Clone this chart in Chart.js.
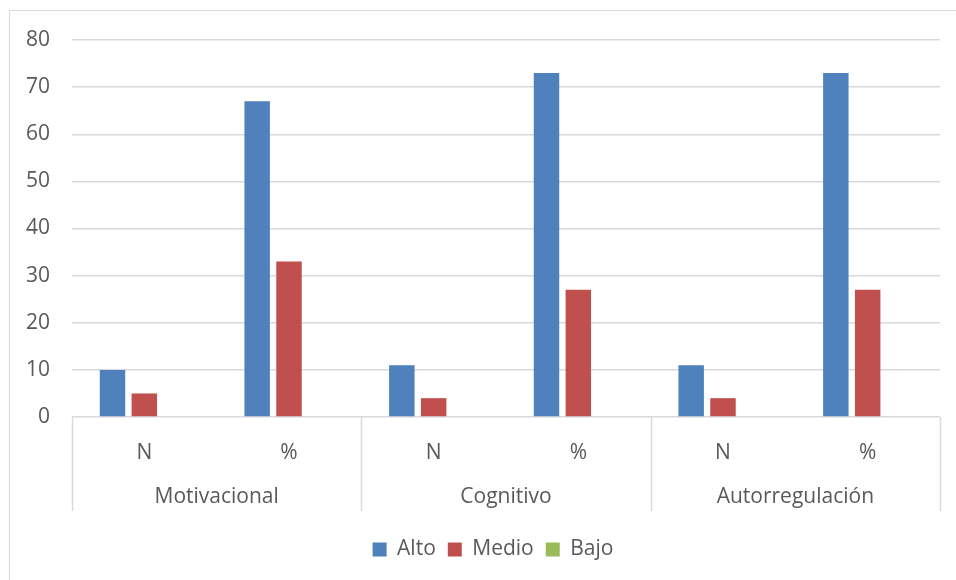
<!DOCTYPE html>
<html lang="es">
<head>
<meta charset="UTF-8">
<title>Dimensiones</title>
<script src="https://cdn.jsdelivr.net/npm/chart.js"></script>
<style>
    body{
        margin:0;
        width:956px;
        height:580px;
        overflow:hidden;
        background:#fff;
        position:relative;
    }
    #marco{
        position:absolute;
        left:9px;
        top:10px;
        width:1000px;
        height:700px;
        border:1.5px solid #d9d9d9;
    }
    #grafico{
        position:absolute;
        left:0;
        top:0;
    }
</style>
</head>
<body>
<div id="marco"></div>
<canvas id="grafico" width="956" height="580"></canvas>
<script>
    // datos
    const categorias = ["N", "%", "N", "%", "N", "%"];
    const grupos = ["Motivacional", "Cognitivo", "Autorregulación"];
    const alto = [10, 67, 11, 73, 11, 73];
    const medio = [5, 33, 4, 27, 4, 27];
    const bajo = [0, 0, 0, 0, 0, 0];
    const ticksY = [0, 10, 20, 30, 40, 50, 60, 70, 80];

    const gris = "#d9d9d9";
    const texto = "#595959";
    const fuente = "'Open Sans', sans-serif";

    // dibuja los nombres de grupo y los separadores bajo el eje x
    const gruposPlugin = {
        id: "grupos",
        afterLayout(chart){
            // la leyenda va centrada sobre el area del grafico
            const a = chart.chartArea;
            const l = chart.legend;
            const mitad = (l.right - l.left) / 2;
            const centro = (a.left + a.right) / 2 + 0;
            const dx = centro - (l.left + mitad) - 13;
            l.left += dx;
            l.right += dx;
        },
        afterDraw(chart){
            const x = chart.scales.x;
            const ctx = chart.ctx;
            const ancho = (x.right - x.left) / grupos.length;
            ctx.save();
            ctx.strokeStyle = gris;
            ctx.lineWidth = 1.5;
            for(let k = 0; k <= grupos.length; k++){
                const px = Math.round(x.left + k * ancho) + 0.5;
                ctx.beginPath();
                ctx.moveTo(px, x.top);
                ctx.lineTo(px, x.top + 94);
                ctx.stroke();
            }
            ctx.fillStyle = texto;
            ctx.font = "21px " + fuente;
            ctx.textAlign = "center";
            ctx.textBaseline = "middle";
            grupos.forEach((g, i) => {
                ctx.fillText(g, x.left + (i + 0.5) * ancho, x.top + 80);
            });
            ctx.restore();
        }
    };

    new Chart(document.getElementById("grafico"), {
        type: "bar",
        data: {
            labels: categorias,
            datasets: [
                {label: "Alto", data: alto, backgroundColor: "#4f81bd"},
                {label: "Medio", data: medio, backgroundColor: "#c0504d"},
                {label: "Bajo", data: bajo, backgroundColor: "#9bbb59"}
            ]
        },
        options: {
            responsive: false,
            animation: false,
            categoryPercentage: 0.66,
            barPercentage: 0.8,
            layout: {padding: {top: 40, right: 16, left: 0, bottom: 10}},
            plugins: {
                tooltip: {enabled: false},
                legend: {
                    position: "bottom",
                    labels: {
                        boxWidth: 14,
                        boxHeight: 14,
                        padding: 12,
                        color: texto,
                        font: {family: fuente, size: 21}
                    }
                }
            },
            scales: {
                x: {
                    grid: {display: false},
                    border: {display: false},
                    ticks: {
                        color: texto,
                        font: {family: fuente, size: 21},
                        padding: 15,
                        maxRotation: 0
                    },
                    afterFit(scale){ scale.height = 110; }
                },
                y: {
                    min: 0,
                    max: 80,
                    afterBuildTicks(scale){
                        scale.ticks = ticksY.map(v => ({value: v}));
                    },
                    grid: {color: gris, lineWidth: 1.5, drawTicks: false},
                    border: {display: false},
                    ticks: {
                        color: texto,
                        font: {family: fuente, size: 21},
                        padding: 22
                    },
                    afterFit(scale){ scale.width = 72; }
                }
            }
        },
        plugins: [gruposPlugin]
    });
</script>
</body>
</html>
